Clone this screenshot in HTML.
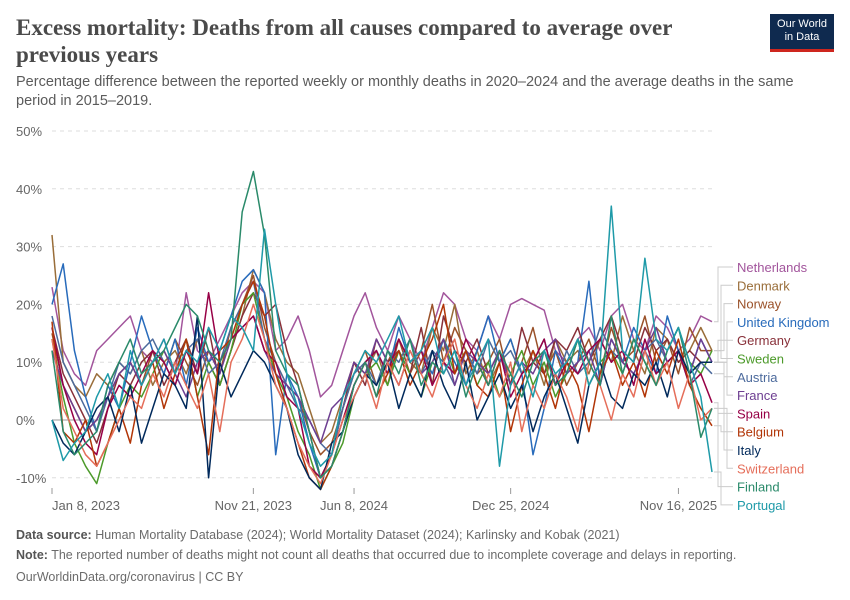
<!DOCTYPE html>
<html><head><meta charset="utf-8">
<style>
body{margin:0;background:#fff;font-family:"Liberation Sans",sans-serif;}
#wrap{position:relative;width:850px;height:600px;overflow:hidden;}
h1{position:absolute;left:16px;top:14px;margin:0;font-family:"Liberation Serif",serif;font-size:23px;line-height:27px;font-weight:bold;color:#4a4a4a;width:700px;}
.sub{position:absolute;left:16px;top:73px;font-size:14.5px;line-height:19px;color:#5b5b5b;width:810px;}
.logo{position:absolute;left:770px;top:14px;width:64px;height:38px;background:#0f2a4f;color:#fff;font-size:11px;line-height:13px;text-align:center;padding-top:4px;box-sizing:border-box;border-bottom:3px solid #ce261e;}
.foot{position:absolute;left:16px;font-size:12.5px;color:#6b6b6b;}
.foot b{color:#555;}
</style></head><body>
<div id="wrap">
<h1>Excess mortality: Deaths from all causes compared to average over previous years</h1>
<div class="sub">Percentage difference between the reported weekly or monthly deaths in 2020–2024 and the average deaths in the same period in 2015–2019.</div>
<div class="logo">Our World<br>in Data</div>
<svg id="chart" width="850" height="600" style="position:absolute;left:0;top:0"></svg>
<div class="foot" style="top:528px"><b>Data source:</b> Human Mortality Database (2024); World Mortality Dataset (2024); Karlinsky and Kobak (2021)</div>
<div class="foot" style="top:548px"><b>Note:</b> The reported number of deaths might not count all deaths that occurred due to incomplete coverage and delays in reporting.</div>
<div class="foot" style="top:570px">OurWorldinData.org/coronavirus | CC BY</div>
</div>
<script>
const yTicks=[50,40,30,20,10,0,-10];
const xTickLabels=["Jan 8, 2023","Nov 21, 2023","Jun 8, 2024","Dec 25, 2024","Nov 16, 2025"];
const xTickIndex=[0,18,27,41,56];
const countries=["Netherlands","Denmark","Norway","United Kingdom","Germany","Sweden","Austria","France","Spain","Belgium","Italy","Switzerland","Finland","Portugal"];
const colors=["#a2559c","#996d39","#9a5129","#286bbb","#883039","#4c9a2a","#4c6a9c","#6d3e91","#970046","#b13507","#00295b","#e56e5a","#2a8a6a","#1e9aa8"];
const netherlands=[23,12,8,6,12,14,16,18,12,10,14,8,22,12,10,14,18,22,24,22,12,14,18,12,4,6,12,18,22,16,12,18,14,10,16,22,20,14,12,18,14,20,21,20,19,12,10,14,16,12,18,20,14,12,18,16,12,14,18,17];
const denmark=[32,10,6,4,8,6,10,8,12,6,10,12,8,14,10,6,12,18,26,22,14,10,8,2,-4,-2,4,10,8,12,6,14,10,8,16,12,20,8,12,6,10,14,8,12,6,14,10,12,8,14,10,18,12,8,16,14,10,12,16,12];
const norway=[15,6,2,-2,0,4,8,10,6,12,8,14,10,6,12,8,16,20,25,16,10,6,4,-2,-6,-4,2,8,12,6,10,14,8,12,20,10,16,12,8,10,14,6,10,16,8,12,6,10,14,8,16,10,12,18,10,14,8,16,12,12];
const uk=[20,27,12,4,-2,6,2,10,18,12,8,14,6,16,10,12,18,24,26,22,-6,8,4,-4,-10,-8,-2,6,10,12,8,16,10,12,8,14,10,6,12,18,10,14,8,-6,2,12,8,10,24,6,14,10,16,12,8,18,12,8,14,10];
const germany=[16,8,4,0,-4,2,8,6,10,12,6,10,14,8,16,6,12,18,22,18,20,12,6,-2,-10,-6,2,10,6,14,10,12,8,16,6,18,12,10,14,8,12,6,16,10,8,14,12,16,10,14,18,12,10,16,12,14,10,12,10,10];
const sweden=[14,4,-4,-8,-11,-4,2,6,4,8,12,8,14,4,10,6,12,20,22,14,8,4,-2,-6,-12,-8,-4,4,8,10,6,12,8,4,10,14,8,12,6,10,4,8,12,6,10,4,8,14,6,10,12,8,14,10,6,12,16,10,8,12];
const austria=[18,10,6,2,-2,4,10,8,12,14,10,6,12,14,8,10,16,20,24,14,10,6,2,0,-4,-6,2,8,10,6,12,10,14,8,12,10,6,12,8,14,10,12,8,10,14,6,12,8,10,16,12,10,8,12,14,10,12,6,10,8];
const france=[12,6,2,-2,0,4,8,10,6,10,12,8,4,10,12,8,14,16,18,12,8,6,4,0,-4,2,4,10,8,14,10,6,12,8,10,14,6,12,10,8,12,6,10,8,12,14,8,10,12,6,14,10,8,12,16,10,12,8,14,10];
const spain=[16,6,0,-4,-6,2,6,4,8,12,10,6,12,8,22,10,14,16,18,12,10,4,2,-8,-10,-6,0,6,10,12,8,14,10,12,6,10,8,14,10,6,12,4,8,10,14,6,10,8,12,14,10,12,6,14,8,10,12,6,8,3];
const belgium=[17,-2,-4,0,-8,-4,2,-4,6,10,2,8,14,4,-6,12,14,20,24,18,8,2,-4,-10,-12,-8,-2,6,10,4,8,12,6,10,14,20,8,12,6,4,10,-2,6,12,8,2,10,6,-2,8,12,6,10,4,12,8,14,6,2,-1];
const italy=[0,-4,-6,-2,2,4,-2,6,-4,2,8,6,2,18,-10,10,4,8,12,10,6,2,-6,-10,-12,-4,-2,4,8,6,10,2,8,4,12,6,2,10,0,4,8,2,6,-2,4,8,2,-4,6,10,4,2,8,6,10,4,12,8,10,10];
const switzerland=[14,2,-2,-6,-8,-4,0,4,2,8,4,10,6,2,8,-2,10,14,20,14,6,2,-4,-8,-11,-6,0,4,8,2,10,6,12,8,4,10,14,6,2,8,4,10,-2,6,2,8,4,-2,10,6,0,8,4,12,6,10,2,8,0,2];
const finland=[12,-2,-6,-4,-2,6,10,14,8,10,12,16,20,18,12,10,14,36,43,32,12,8,6,-2,-10,-8,-2,6,10,4,12,8,14,6,10,8,12,4,10,6,12,8,4,10,12,6,8,14,10,6,18,8,14,10,6,12,16,8,-3,2];
const portugal=[0,-7,-4,-2,4,8,2,12,6,10,14,8,12,10,16,12,18,16,12,33,20,8,2,-4,-8,-6,4,8,12,10,14,18,10,12,16,8,12,6,10,14,-8,6,10,4,12,8,10,14,6,10,37,12,10,28,14,12,16,10,4,-9];
const series=[netherlands,denmark,norway,uk,germany,sweden,austria,france,spain,belgium,italy,switzerland,finland,portugal];

const svg=document.getElementById('chart');
const NS='http://www.w3.org/2000/svg';
const X0=52,X1=712,Y0=420,PX10=57.8;
const n=netherlands.length;
function xs(i){return X0+(X1-X0)*i/(n-1);}
function ys(v){return Y0-v*PX10/10;}
function mk(t,a){const e=document.createElementNS(NS,t);for(const k in a)e.setAttribute(k,a[k]);svg.appendChild(e);return e;}

yTicks.forEach(t=>{
  const l=mk('line',{x1:X0,x2:X1,y1:ys(t),y2:ys(t),stroke:t===0?'#999':'#ddd','stroke-dasharray':t===0?'':'4,4','stroke-width':1});
  
  
  const tx=mk('text',{x:16,y:ys(t)+5,'font-size':13,fill:'#666','font-family':'Liberation Sans, sans-serif'});
  tx.textContent=t+'%';
  
  
});
xTickIndex.forEach((idx,k)=>{
  const x=xs(idx);
  const tl=mk('line',{x1:x,x2:x,y1:488,y2:494,stroke:'#999'});
  
  
  const tx=mk('text',{x:k===0?x:x,y:510,'font-size':13,fill:'#666','text-anchor':k===0?'start':(k===xTickIndex.length-1?'middle':'middle'),'font-family':'Liberation Sans, sans-serif'});
  tx.textContent=xTickLabels[k];
  
  
});
series.forEach((s,k)=>{
  const d=s.map((v,i)=>(i?'L':'M')+xs(i).toFixed(1)+','+ys(v).toFixed(1)).join('');
  const p=mk('path',{d:d,fill:'none',stroke:colors[k],'stroke-width':1.5,'stroke-linejoin':'round'});
  
  
});
countries.forEach((c,k)=>{
  const ly=267+k*18.3;
  const ey=ys(series[k][n-1]);
  const lx=718+(k%4)*3;
  const ld=mk('path',{d:`M${X1+2},${ey.toFixed(1)}H${lx}V${ly.toFixed(1)}H733`,fill:'none',stroke:'#ccc','stroke-width':1});
  
  
  const t=mk('text',{x:737,y:ly+5,'font-size':13,fill:colors[k],'font-family':'Liberation Sans, sans-serif'});
  t.textContent=c;
  
  
});
</script>
</body></html>
